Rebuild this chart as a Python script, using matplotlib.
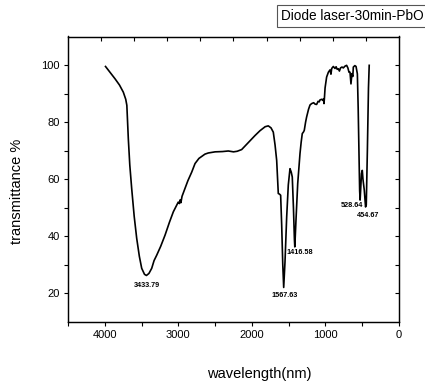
import matplotlib
matplotlib.use("Agg")
import matplotlib.pyplot as plt
from matplotlib.ticker import MultipleLocator, FixedLocator, NullFormatter

plt.rcParams['font.family'] = ['Liberation Sans', 'DejaVu Sans']

wavenumber = [3990, 3930, 3861, 3800, 3748, 3715, 3700, 3690, 3680, 3660, 3634, 3600, 3566, 3530,
              3498, 3460, 3433.79, 3400, 3362, 3330, 3294, 3240, 3181, 3120, 3068, 3030, 3001, 2985,
              2975, 2965, 2950, 2910, 2870, 2818, 2773, 2720, 2638, 2593, 2500, 2400, 2321, 2250,
              2200, 2139, 2080, 2026, 1958, 1890, 1820, 1777, 1740, 1709, 1685, 1663, 1650, 1641,
              1625, 1609, 1595, 1580, 1567.63, 1550, 1527, 1505, 1482, 1465, 1451, 1435, 1422,
              1416.58, 1400, 1377, 1360, 1346, 1330, 1315, 1300, 1288, 1270, 1256, 1230, 1210, 1188,
              1160, 1140, 1120, 1100, 1085, 1074, 1050, 1035, 1025, 1020, 1015, 1005, 984, 960, 938,
              925, 915, 893, 870, 855, 840, 825, 810, 795, 775, 757, 735, 712, 695, 680, 666, 653,
              640, 628, 621, 600, 584, 566, 555, 545, 535, 528.64, 520, 510, 499, 490, 472, 462,
              454.67, 445, 430, 415, 405]
transmittance = [99.5, 97.5, 95.2, 93.0, 90.5, 88.0, 85.9, 80.0, 74.2, 65.0, 56.7, 47.0, 39.3, 33.0,
                 28.8, 26.7, 26.3, 27.0, 28.8, 31.5, 33.4, 36.5, 40.4, 45.0, 48.6, 50.5, 52.0, 51.5,
                 52.8, 51.8, 54.0, 56.7, 59.5, 62.5, 65.5, 67.3, 68.8, 69.2, 69.6, 69.7, 69.9, 69.6,
                 69.8, 70.4, 72.0, 73.5, 75.3, 77.0, 78.4, 78.7, 78.0, 76.5, 72.0, 66.6, 60.0, 55.0,
                 54.8, 54.4, 44.0, 30.0, 22.1, 31.0, 46.8, 58.0, 63.7, 62.5, 60.8, 50.0, 39.0,
                 36.3, 46.0, 58.5, 64.0, 69.0, 73.0, 76.0, 76.5, 77.1, 80.0, 81.8, 84.5, 86.0, 86.5,
                 86.8, 86.3, 86.2, 87.3, 87.1, 87.8, 88.0, 87.6, 88.2, 86.5, 88.0, 92.0, 95.8, 97.5, 98.3,
                 96.8, 98.8, 99.5, 98.8, 99.4, 98.5, 98.7, 97.9, 99.0, 99.3, 99.0, 99.6, 99.9, 99.0,
                 97.5, 97.5, 93.4, 97.0, 96.0, 99.3, 99.8, 99.5, 96.9, 85.0, 70.0, 56.0, 52.7, 57.0,
                 62.0, 63.1, 60.0, 56.2, 52.5, 50.3, 51.0, 70.0, 92.0, 99.9]

peak_labels = ["3433.79", "1567.63", "1416.58", "528.64", "454.67"]
peak_x = [3433.79, 1567.63, 1416.58, 528.64, 454.67]
peak_y = [26.3, 22.1, 36.3, 52.7, 50.3]
label_offsets = [(0, -10), (1, -8), (5, -6), (-8, -5), (3, -9)]

legend_text = "Diode laser-30min-PbO"

fig = plt.figure(figsize=(4.25, 3.85), dpi=100)
ax = fig.add_axes([68/425, 1-322/385, (399-68)/425, (322-36.5)/385])
ax.plot(wavenumber, transmittance, color='black', lw=1.2)
ax.set_xlim(4500, 0)
ax.set_ylim(10, 110)

ax.xaxis.set_major_locator(MultipleLocator(1000))
ax.xaxis.set_minor_locator(MultipleLocator(500))
ax.yaxis.set_major_locator(FixedLocator([20, 40, 60, 80, 100]))
ax.yaxis.set_minor_locator(FixedLocator([30, 50, 70, 90]))
ax.tick_params(which='both', direction='out', length=3, width=0.8, labelsize=8, pad=3,
               top=False, right=False)
for s in ax.spines.values():
    s.set_linewidth(0.9)

axr = ax.twinx()
axr.set_ylim(10, 110)
axr.yaxis.set_major_locator(FixedLocator([20, 30, 40, 50, 60, 70, 80, 90, 100]))
axr.yaxis.set_major_formatter(NullFormatter())
axr.tick_params(direction='in', length=3, width=0.8)

axt = ax.twiny()
axt.set_xlim(4500, 0)
axt.xaxis.set_major_locator(FixedLocator([4050, 3600, 3150, 2700, 2250, 1800, 1350, 900, 450]))
axt.xaxis.set_major_formatter(NullFormatter())
axt.tick_params(direction='in', length=3, width=0.8)

for lab, px, py, off in zip(peak_labels, peak_x, peak_y, label_offsets):
    ax.annotate(lab, xy=(px, py), xytext=off, textcoords='offset pixels',
                ha='center', va='center', fontsize=5.2, fontweight='bold')

fig.text(17/425, 1-191/385, "transmittance %", rotation=90, ha='center', va='center', fontsize=10.5)
fig.text(259/425, 1-374/385, "wavelength(nm)", ha='center', va='center', fontsize=10.5)
fig.text(281/425, 1-16/385, legend_text, ha='left', va='center', fontsize=9.8,
         bbox=dict(boxstyle='square,pad=0.3', facecolor='white', edgecolor='#555555', linewidth=0.8))

fig.savefig("out.png", dpi=100)
